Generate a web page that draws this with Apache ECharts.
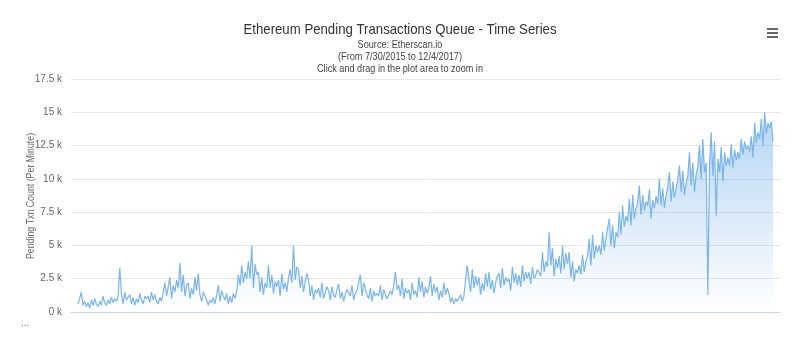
<!DOCTYPE html>
<html>
<head>
<meta charset="utf-8">
<script src="https://cdn.jsdelivr.net/npm/echarts@6/dist/echarts.min.js"></script>
<style>
html,body{margin:0;padding:0;background:#fff;}
#chart{width:800px;height:353px;}
</style>
</head>
<body>
<div id="chart"></div>
<script>
// Pending transactions (per minute), sampled roughly every 2 days from 7/30/2015 to 12/4/2017
var startDate = '2015-07-30';
var endDate = '2017-12-04';
var pendingTxn = [
  600, 1000, 1500, 500, 800, 400,
  700, 300, 900, 500, 1000, 600,
  400, 800, 500, 1200, 700, 500,
  900, 600, 1100, 700, 1000, 800,
  1200, 3300, 1400, 600, 1500, 900,
  800, 1300, 600, 1100, 500, 1000,
  700, 1400, 900, 600, 1200, 1000,
  1200, 700, 1500, 900, 1300, 800,
  600, 1100, 800, 1500, 2200, 1200,
  1300, 2600, 1000, 2000, 1500, 2400,
  1800, 3700, 1500, 2800, 1200, 2000,
  2200, 1000, 1800, 1300, 2600, 1600,
  2900, 1300, 800, 1500, 1200, 900,
  500, 900, 700, 1100, 600, 1300,
  2000, 800, 1600, 1200, 900, 1400,
  600, 1200, 700, 1400, 1000, 1600,
  2800, 2000, 3500, 2200, 3000, 2500,
  3800, 2500, 5000, 1800, 3600, 2800,
  3000, 1500, 2600, 1300, 2200, 1800,
  3500, 1800, 2800, 1400, 2300, 1900,
  2400, 1200, 2900, 1700, 2200, 1500,
  2600, 3200, 2200, 5000, 2400, 3400,
  3200, 1800, 2700, 1500, 2300, 2900,
  2400, 1200, 2000, 900, 1700, 1400,
  1800, 1100, 2200, 1000, 1500, 1900,
  1600, 900, 1900, 1300, 1100, 1700,
  2100, 1000, 1500, 800, 1300, 1700,
  1800, 1200, 2000, 900, 1400, 1600,
  1500, 2800, 1200, 2200, 1700, 1300,
  1000, 1800, 800, 1600, 1200, 1400,
  1200, 2000, 900, 1700, 1300, 1000,
  1100, 1600, 1300, 2000, 3000, 1700,
  2000, 1200, 2500, 1000, 1800, 1400,
  1700, 900, 2200, 1300, 1600, 1100,
  2600, 1500, 2300, 1100, 1900, 1400,
  1800, 2700, 1200, 2100, 1500, 1900,
  900, 1600, 1100, 2200, 1300, 1800,
  1400, 700, 1100, 600, 1000, 800,
  900, 1300, 800, 1200, 2500, 3500,
  2400, 1500, 3200, 1800, 2700, 2000,
  2600, 1300, 2200, 1600, 2900, 1900,
  3000, 1700, 2400, 1400, 2200, 2700,
  2900, 1800, 3300, 2000, 2600, 2300,
  2500, 1600, 3400, 2200, 2900, 2000,
  2800, 1900, 3500, 2300, 3000, 2500,
  3000, 2100, 3400, 2500, 2800, 3200,
  3300, 2700, 4500, 3000, 3800, 3400,
  6000, 3500, 4800, 2700, 4000, 3300,
  4200, 2900, 5000, 3200, 4400, 3600,
  4500, 2600, 3800, 2300, 3200, 2900,
  3500, 2800, 4300, 3000, 3800, 4200,
  5500, 3500, 5800, 4000, 5000, 4500,
  5000, 4300, 6000, 4600, 5500, 6300,
  7000, 5000, 6500, 4800, 6000, 5600,
  7500, 5800, 8000, 6400, 7200, 6800,
  8500, 6500, 8800, 7000, 7800, 8200,
  9500, 7300, 8800, 7600, 8300, 8000,
  9200, 7000, 8400, 7800, 8700, 8100,
  10000, 8000, 9300, 7800, 8800, 9400,
  10500, 8300, 9800, 8600, 9300, 9900,
  11000, 9000, 10600, 8800, 9700, 10200,
  12000, 9500, 11200, 9000, 10400, 10900,
  12500, 10000, 13000, 10500, 11200, 1300,
  11000, 13500, 10200, 12800, 7200, 11500,
  10500, 12400, 9800, 12000, 11000, 11600,
  11000, 12600, 10800, 12200, 11400, 12000,
  11500, 13000, 11800, 12800, 12200, 12500,
  12000, 13200, 11600, 14200, 12700, 13500,
  13000, 14500, 12500, 15000, 13400, 14200,
  13800, 14300, 12800
];
var yTicks = [0, 2500, 5000, 7500, 10000, 12500, 15000, 17500];
var titleText = 'Ethereum Pending Transactions Queue - Time Series';
var subtitleLines = ['Source: Etherscan.io', '(From 7/30/2015 to 12/4/2017)', 'Click and drag in the plot area to zoom in'];
var yAxisTitle = 'Pending Txn Count (Per Minute)';

var t0 = new Date(startDate + 'T00:00:00Z').getTime();
var t1 = new Date(endDate + 'T00:00:00Z').getTime();
var n = pendingTxn.length;
var step = (t1 - t0) / (n - 1);
var seriesData = pendingTxn.map(function (v, i) { return [t0 + i * step, v]; });
var pad = (t1 - t0) * 7 / 695;

var FONT = '"Liberation Sans", Arial, sans-serif';
var subGraphics = subtitleLines.map(function (s, i) {
  return {type: 'text', x: 400, y: 45 + i * 12, scaleX: 0.83,
    style: {text: s, textAlign: 'center', textVerticalAlign: 'middle', fontFamily: FONT, fontSize: 11, fill: '#444444'}};
});

var chart = echarts.init(document.getElementById('chart'), null, {renderer: 'canvas'});
chart.setOption({
  animation: false,
  backgroundColor: '#ffffff',
  grid: {left: 71, right: 20, top: 79, bottom: 41, containLabel: false},
  xAxis: {
    type: 'time',
    min: t0 - pad,
    max: t1 + pad,
    axisLine: {show: true, lineStyle: {color: '#ccd6eb', width: 1}},
    axisTick: {show: false},
    axisLabel: {show: false},
    splitLine: {show: false}
  },
  yAxis: {
    type: 'value',
    min: yTicks[0],
    max: yTicks[yTicks.length - 1],
    interval: 2500,
    axisLine: {show: false},
    axisTick: {show: false},
    axisLabel: {
      margin: 9,
      fontFamily: FONT,
      fontSize: 10,
      color: '#666666',
      formatter: function (v) { return (v / 1000) + ' k'; }
    },
    splitLine: {lineStyle: {color: '#e6e6e6', width: 1}}
  },
  series: [{
    type: 'line',
    data: seriesData,
    showSymbol: false,
    symbol: 'none',
    lineStyle: {color: '#7cb5ec', width: 1.2},
    areaStyle: {
      color: new echarts.graphic.LinearGradient(0, 79, 0, 312, [
        {offset: 0, color: 'rgba(124,181,236,0.95)'},
        {offset: 1, color: 'rgba(124,181,236,0)'}
      ], true)
    }
  }],
  graphic: [
    {type: 'text', x: 400, y: 30, scaleX: 0.88,
      style: {text: titleText, textAlign: 'center', textVerticalAlign: 'middle', fontFamily: FONT, fontSize: 15, fill: '#333333'}},
    {type: 'text', x: 31, y: 196, rotation: Math.PI / 2, scaleX: 0.8,
      style: {text: yAxisTitle, textAlign: 'center', textVerticalAlign: 'middle', fontFamily: FONT, fontSize: 11, fill: '#666666'}}
  ].concat(subGraphics).concat([
    {type: 'rect', shape: {x: 767, y: 28, width: 11, height: 2}, style: {fill: '#666666'}},
    {type: 'rect', shape: {x: 767, y: 32, width: 11, height: 2}, style: {fill: '#666666'}},
    {type: 'rect', shape: {x: 767, y: 36, width: 11, height: 2}, style: {fill: '#666666'}},
    {type: 'text', x: 21, y: 318, style: {text: '...', fontFamily: FONT, fontSize: 10, fill: '#666666'}}
  ])
});
</script>
</body>
</html>
